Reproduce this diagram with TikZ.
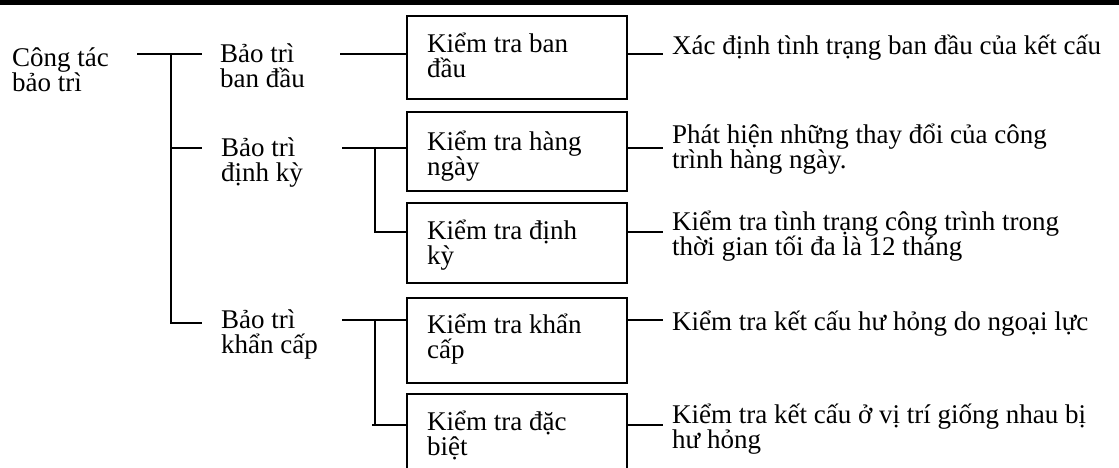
\documentclass[tikz,border=0pt]{standalone}
\usepackage{fontspec}
\setmainfont{Liberation Serif}
\lineskiplimit=-100pt
\newcommand\twol[2]{\vtop{\hbox{#1}\hbox{#2}}}
\tikzset{
  txt/.style={inner sep=0pt, anchor=base west, font=\fontsize{27}{25}\selectfont},
  rtxt/.style={txt},
  boxnode/.style={draw, line width=2pt, minimum width=220pt, inner sep=0pt, anchor=north west},
  conn/.style={line width=1.8pt},
}
\begin{document}
\begin{tikzpicture}[x=1pt,y=-1pt]
\useasboundingbox (0,0) rectangle (1119,468);
\fill[black] (0,0) rectangle (1119,5);

% left texts
\node[txt] (root) at (12,67) {\twol{Công tác}{bảo trì}};
\node[txt] (l1) at (220,63) {\twol{Bảo trì}{ban đầu}};
\node[txt] (l2) at (221,157) {\twol{Bảo trì}{định kỳ}};
\node[txt] (l3) at (221,328) {\twol{Bảo trì}{khẩn cấp}};

% boxes
\node[boxnode, minimum height=83pt] (b1) at (406,15) {};
\node[boxnode, minimum height=79pt] (b2) at (406,111) {};
\node[boxnode, minimum height=80pt] (b3) at (406,202) {};
\node[boxnode, minimum height=85pt] (b4) at (406,297) {};
\node[boxnode, minimum height=83pt] (b5) at (406,393) {};

% box texts
\node[txt] (t1) at (427,53) {\twol{Kiểm tra ban}{đầu}};
\node[txt] (t2) at (427,150) {\twol{Kiểm tra hàng}{ngày}};
\node[txt] (t3) at (427,239) {\twol{Kiểm tra định}{kỳ}};
\node[txt] (t4) at (427,333) {\twol{Kiểm tra khẩn}{cấp}};
\node[txt] (t5) at (427,430) {\twol{Kiểm tra đặc}{biệt}};

% right texts
\node[rtxt] (d1) at (672,55) {Xác định tình trạng ban đầu của kết cấu};
\node[rtxt] (d2) at (672,143) {\twol{Phát hiện những thay đổi của công}{trình hàng ngày.}};
\node[rtxt] (d3) at (672,230) {\twol{Kiểm tra tình trạng công trình trong}{thời gian tối đa là 12 tháng}};
\node[rtxt] (d4) at (672,330) {Kiểm tra kết cấu hư hỏng do ngoại lực};
\node[rtxt] (d5) at (672,423) {\twol{Kiểm tra kết cấu ở vị trí giống nhau bị}{hư hỏng}};

% root connectors
\coordinate (r0) at (137,54);
\coordinate (rj) at (171,54);
\coordinate (r1) at (202,54);
\coordinate (r2) at (202,148);
\coordinate (r3) at (202,323);
\draw[conn] (r0) -- (r1);
\draw[conn] (rj) |- (r2);
\draw[conn] (rj) |- (r3);

% level-1 to boxes
\coordinate (q1) at (340,54);
\draw[conn] (q1) -- (b1.west |- q1);

\coordinate (q2) at (342,148);
\coordinate (q2j) at (375,148);
\coordinate (q3) at (375,232);
\draw[conn] (q2) -- (b2.west |- q2);
\draw[conn] (q2j) -- (q3) -- (b3.west |- q3);

\coordinate (q4) at (342,320);
\coordinate (q4j) at (375,320);
\coordinate (q5) at (375,425);
\coordinate (q5s) at (372,425);
\draw[conn] (q4) -- (b4.west |- q4);
\draw[conn] (q4j) -- (q5);
\draw[conn] (q5s) -- (b5.west |- q5s);

% boxes to descriptions
\coordinate (e1) at (663,54);
\coordinate (e2) at (663,148);
\coordinate (e3) at (663,232);
\coordinate (e4) at (663,320);
\coordinate (e5) at (663,425);
\draw[conn] (b1.east |- e1) -- (e1);
\draw[conn] (b2.east |- e2) -- (e2);
\draw[conn] (b3.east |- e3) -- (e3);
\draw[conn] (b4.east |- e4) -- (e4);
\draw[conn] (b5.east |- e5) -- (e5);
\end{tikzpicture}
\end{document}
